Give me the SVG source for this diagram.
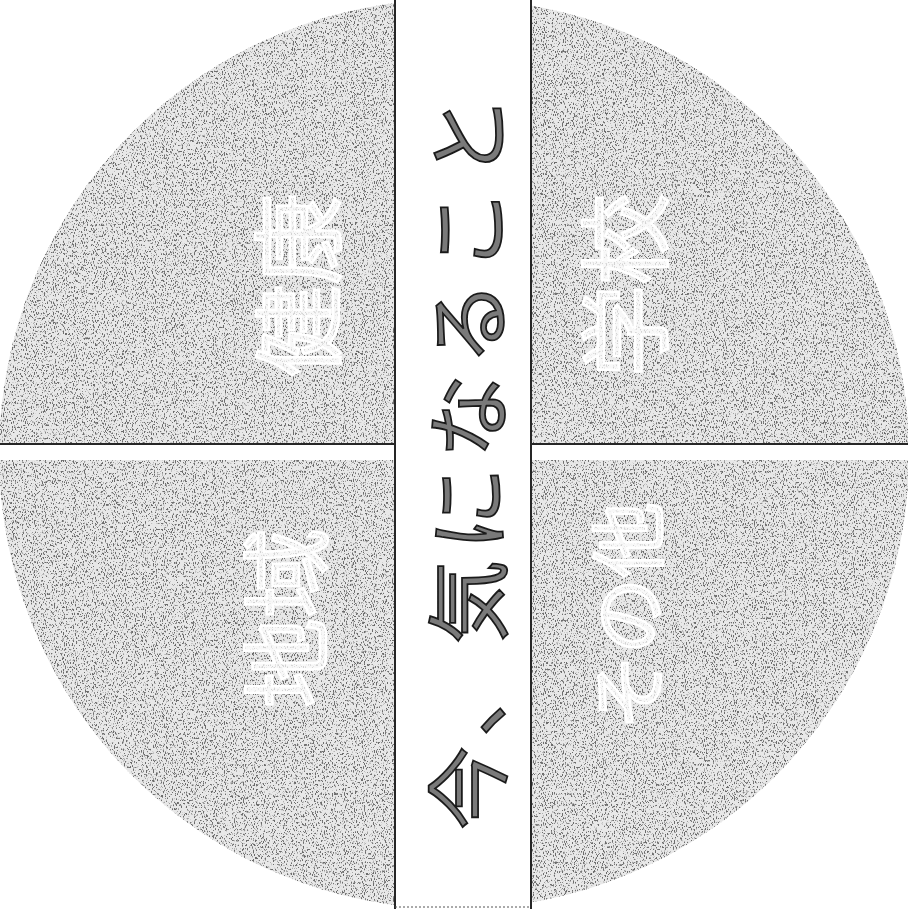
<svg xmlns="http://www.w3.org/2000/svg" width="908" height="909" viewBox="0 0 908 909">
  <defs>
    <style>
      .quad-text { font-family: "Noto Sans CJK JP", "Noto Sans CJK SC", sans-serif; fill: #ffffff; fill-opacity: 0.7; stroke: #ffffff; stroke-width: 2.5; text-anchor: middle; dominant-baseline: central; }
      .title { font-family: "Noto Sans CJK JP", "Noto Sans CJK SC", sans-serif; font-size: 84px; fill: #7a7a7a; stroke: #1a1a1a; stroke-width: 1.8; letter-spacing: 9px; text-anchor: middle; dominant-baseline: central; }
      .divider { stroke: #262626; stroke-width: 2; fill: none; }
    </style>
    <clipPath id="disc">
      <circle cx="454" cy="454" r="455"/>
    </clipPath>
    <clipPath id="quads">
      <rect x="0" y="0" width="394" height="443"/>
      <rect x="532" y="0" width="376" height="443"/>
      <rect x="0" y="460" width="394" height="449"/>
      <rect x="532" y="460" width="376" height="449"/>
    </clipPath>
    <filter id="grain" x="0" y="0" width="908" height="909" filterUnits="userSpaceOnUse">
      <feTurbulence type="fractalNoise" baseFrequency="1.1 0.45" numOctaves="2" seed="7" result="n"/>
      <feColorMatrix in="n" type="matrix" values="0 0 0 0 0.15  0 0 0 0 0.15  0 0 0 0 0.15  -8 0 0 0 3.6"/>
    </filter>
  </defs>

  <rect x="0" y="0" width="908" height="909" fill="#ffffff"/>

  <!-- stippled disc -->
  <g id="disc-fill" clip-path="url(#disc)">
    <g clip-path="url(#quads)">
      <rect x="0" y="0" width="908" height="909" fill="#e8e8e8"/>
      <rect x="0" y="0" width="908" height="909" fill="#000" filter="url(#grain)"/>
    </g>
  </g>

  <!-- dividers -->
  <g id="connectors">
    <line class="divider" x1="0" y1="444" x2="395" y2="444"/>
    <line class="divider" x1="531" y1="444" x2="908" y2="444"/>
    <line class="divider" x1="395" y1="0" x2="395" y2="909"/>
    <line class="divider" x1="531" y1="0" x2="531" y2="909"/>
    <line x1="395" y1="907" x2="531" y2="907" stroke="#555" stroke-width="1" stroke-dasharray="2 2"/>
  </g>

  <g id="node-health">
    <text class="quad-text" font-size="92" transform="translate(292,285) rotate(-90)">健康</text>
  </g>
  <g id="node-school">
    <text class="quad-text" font-size="92" transform="translate(619,285) rotate(-90)">学校</text>
  </g>
  <g id="node-region">
    <text class="quad-text" font-size="90" transform="translate(281,618) rotate(-90)">地域</text>
  </g>
  <g id="node-other">
    <text class="quad-text" font-size="76" transform="translate(624,616) rotate(-90)">その他</text>
  </g>

  <g id="node-title">
    <text class="title" transform="translate(463,458) rotate(-90)">今、気になること</text>
  </g>
</svg>
